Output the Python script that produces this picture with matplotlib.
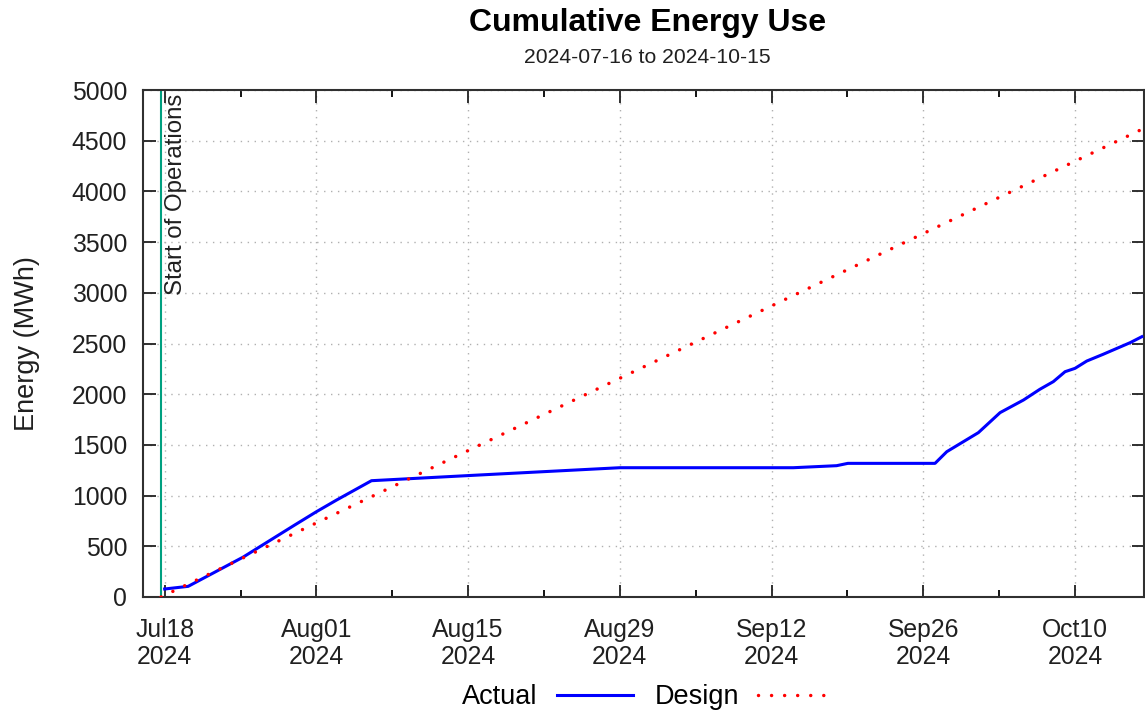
import datetime as dt
import matplotlib
matplotlib.use("Agg")
import matplotlib.pyplot as plt

plt.rcParams['font.family'] = ['Liberation Sans', 'DejaVu Sans']

# actual cumulative energy (MWh)
actual_dates = [
    dt.datetime(2024, 7, 18), dt.datetime(2024, 7, 20, 4), dt.datetime(2024, 7, 25, 6),
    dt.datetime(2024, 7, 30), dt.datetime(2024, 8, 1), dt.datetime(2024, 8, 2, 21),
    dt.datetime(2024, 8, 6, 2), dt.datetime(2024, 8, 16), dt.datetime(2024, 8, 29),
    dt.datetime(2024, 9, 14), dt.datetime(2024, 9, 18), dt.datetime(2024, 9, 19, 1),
    dt.datetime(2024, 9, 27, 2), dt.datetime(2024, 9, 28, 4), dt.datetime(2024, 10, 1, 2),
    dt.datetime(2024, 10, 3, 2), dt.datetime(2024, 10, 5, 6), dt.datetime(2024, 10, 6, 18),
    dt.datetime(2024, 10, 8), dt.datetime(2024, 10, 9, 2), dt.datetime(2024, 10, 10),
    dt.datetime(2024, 10, 11, 2), dt.datetime(2024, 10, 12, 14), dt.datetime(2024, 10, 15, 2),
    dt.datetime(2024, 10, 16, 4),
]
actual_mwh = [79, 105, 394, 710, 841, 957, 1147, 1203, 1275, 1275, 1295, 1318,
              1318, 1433, 1621, 1818, 1943, 2048, 2124, 2222, 2255, 2327, 2393,
              2508, 2567]

# design curve end points
design_dates = [dt.datetime(2024, 7, 17, 16), dt.datetime(2024, 10, 16, 4)]
design_mwh = [0, 4612]

start_ops = dt.datetime(2024, 7, 17, 16)
x_start = dt.datetime(2024, 7, 16)
x_end = dt.datetime(2024, 10, 16, 7, 40)

fig = plt.figure(figsize=(11.45, 7.13), dpi=100)
ax = fig.add_axes([143 / 1145, 1 - 597 / 713, (1143.5 - 143) / 1145, (597 - 90) / 713])

l1, = ax.plot(actual_dates, actual_mwh, color='#0000ff', lw=2.2, label='Actual',
              solid_joinstyle='round', zorder=3)
l2, = ax.plot(design_dates, design_mwh, color='#ff0000', lw=2.5, label='Design',
              linestyle=(0, (0.01, 3.75)), dash_capstyle='round', zorder=4)

ax.axvline(start_ops, color='#00a080', lw=1.5, zorder=2)
ax.text(start_ops + dt.timedelta(hours=9), 4965, 'Start of Operations', rotation=90,
        ha='left', va='top', fontsize=17.3, color='#202020')

# ticks: major every 14 days, minor every 7 days
major = [dt.datetime(2024, 7, 18) + dt.timedelta(days=14 * i) for i in range(7)]
minor = [dt.datetime(2024, 7, 18) + dt.timedelta(days=7 * i) for i in range(13)]
ax.set_xticks(major)
ax.set_xticks(minor, minor=True)
ax.set_xticklabels([d.strftime('%b%d') + '\n2024' for d in major])
ax.set_yticks(range(0, 5001, 500))
ax.set_xlim(x_start, x_end)
ax.set_ylim(0, 5000)

ax.tick_params(axis='both', which='major', direction='in', length=9, width=1.3,
               labelsize=17.8, top=True, right=True, colors='#202020')
ax.tick_params(axis='both', which='minor', direction='in', length=5, width=1.3,
               top=True, right=True)
ax.tick_params(axis='y', pad=11.5)
ax.tick_params(axis='x', pad=15)
for t in ax.get_xticklabels():
    t.set_linespacing(1.19)

ax.grid(True, which='major', color='#b0b0b0', linestyle=(0, (1, 4)), lw=1.0)
for s in ax.spines.values():
    s.set_linewidth(1.5)
    s.set_color('#303030')

ax.set_ylabel('Energy (MWh)', fontsize=19.5, color='#202020')
ax.yaxis.set_label_coords(-0.103, 0.5)

fig.text(648 / 1145, 1 - 22.5 / 713, 'Cumulative Energy Use', ha='center', va='center',
         fontsize=23, fontweight='bold')
fig.text(647 / 1145, 1 - 57.5 / 713, '2024-07-16 to 2024-10-15', ha='center', va='center',
         fontsize=15.2, color='#202020')

fig.legend(handles=[l1, l2], loc='center', bbox_to_anchor=(648 / 1145, 1 - 697 / 713),
           ncol=2, frameon=False, markerfirst=False, fontsize=19.5, handlelength=2.8,
           columnspacing=0.8, handletextpad=0.7)

fig.savefig('out.png', dpi=100)
